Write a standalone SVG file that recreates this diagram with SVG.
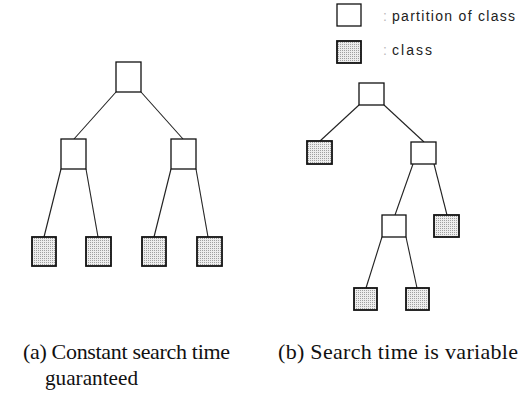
<svg xmlns="http://www.w3.org/2000/svg" width="525" height="395" viewBox="0 0 525 395">
<defs>
<pattern id="dots" width="2" height="2" patternUnits="userSpaceOnUse">
<rect width="2" height="2" fill="#ededed"/>
<rect width="1" height="1" fill="#a0a0a0"/>
</pattern>
<style>
.part{fill:#fff;stroke:#111;stroke-width:1.3}
.cls{fill:url(#dots);stroke:#111;stroke-width:1.8}
.edge{stroke:#222;stroke-width:1.1;fill:none}
.leg{font-family:"Liberation Sans",Arial,sans-serif;font-size:14px;fill:#222}
.cap{font-family:"Liberation Serif","Times New Roman",serif;font-size:22px;fill:#111}
</style>
</defs>
<rect width="525" height="395" fill="#fff"/>
<g id="connectors">
<line class="edge" x1="116" y1="92" x2="74" y2="139"/>
<line class="edge" x1="141" y1="92" x2="183" y2="139"/>
<line class="edge" x1="61" y1="169" x2="44" y2="237"/>
<line class="edge" x1="86" y1="169" x2="98" y2="237"/>
<line class="edge" x1="171" y1="169" x2="154" y2="237"/>
<line class="edge" x1="196" y1="169" x2="208" y2="237"/>
<line class="edge" x1="359" y1="105" x2="320" y2="141"/>
<line class="edge" x1="384" y1="105" x2="424" y2="142"/>
<line class="edge" x1="413" y1="164" x2="395" y2="215"/>
<line class="edge" x1="434" y1="164" x2="447" y2="215"/>
<line class="edge" x1="382" y1="237" x2="366" y2="288"/>
<line class="edge" x1="406" y1="237" x2="417" y2="288"/>
</g>
<g id="legend-partition"><rect class="part" x="337" y="4" width="24" height="22"/><text class="leg" x="383" y="21" style="fill:#bbb">:</text><text class="leg" x="392" y="21" textLength="123" lengthAdjust="spacing">partition of class</text></g>
<g id="legend-class"><rect class="cls" x="337" y="41" width="24" height="22"/><text class="leg" x="383" y="55" style="fill:#bbb">:</text><text class="leg" x="392" y="55" textLength="40" lengthAdjust="spacing">class</text></g>
<g id="a-root"><rect class="part" x="116" y="62" width="25" height="30"/></g>
<g id="a-mid-left"><rect class="part" x="61" y="139" width="25" height="30"/></g>
<g id="a-mid-right"><rect class="part" x="171" y="139" width="25" height="30"/></g>
<g id="a-leaf1"><rect class="cls" x="32" y="237" width="24" height="29"/></g>
<g id="a-leaf2"><rect class="cls" x="86" y="237" width="25" height="29"/></g>
<g id="a-leaf3"><rect class="cls" x="142" y="237" width="24" height="29"/></g>
<g id="a-leaf4"><rect class="cls" x="197" y="237" width="25" height="29"/></g>
<g id="b-root"><rect class="part" x="359" y="83" width="25" height="22"/></g>
<g id="b-leaf-left"><rect class="cls" x="307" y="141" width="25" height="23"/></g>
<g id="b-mid"><rect class="part" x="411" y="142" width="25" height="22"/></g>
<g id="b-mid2"><rect class="part" x="382" y="215" width="24" height="22"/></g>
<g id="b-leaf-right"><rect class="cls" x="434" y="215" width="25" height="22"/></g>
<g id="b-leaf-bl"><rect class="cls" x="354" y="288" width="23" height="22"/></g>
<g id="b-leaf-br"><rect class="cls" x="406" y="288" width="23" height="22"/></g>
<g id="captions">
<text class="cap" x="23" y="359" textLength="207" lengthAdjust="spacing">(a) Constant search time</text>
<text class="cap" x="45" y="385" textLength="93" lengthAdjust="spacingAndGlyphs">guaranteed</text>
<text class="cap" x="278" y="359" textLength="240" lengthAdjust="spacing">(b) Search time is variable</text>
</g>
</svg>
